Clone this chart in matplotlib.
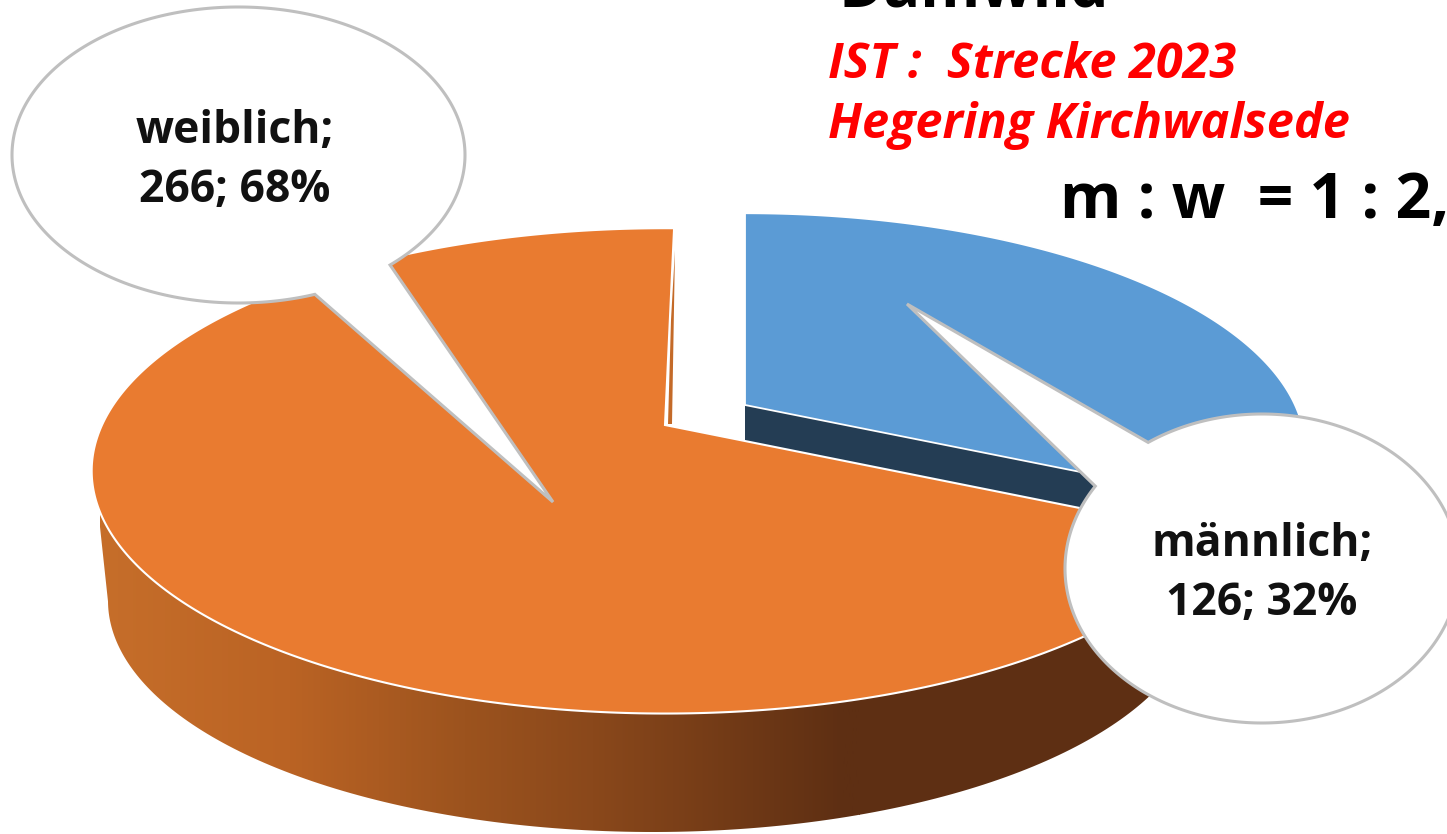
import numpy as np
import matplotlib
matplotlib.use("Agg")
import matplotlib.pyplot as plt
from matplotlib.colors import LinearSegmentedColormap
from matplotlib.patches import Polygon

# data
labels = ["männlich", "weiblich"]
counts = [126, 266]
shares = [32, 68]
title = "Damwild"
subtitle = ["IST :  Strecke 2023", "Hegering Kirchwalsede"]
ratio_text = "m : w  = 1 : 2,1"

plt.rcParams["font.family"] = ["Open Sans", "DejaVu Sans"]

blue = "#5B9BD5"
blue_dark = "#243D54"
orange = "#E97B30"
grey = "#BFBFBF"

fig = plt.figure(figsize=(14.47, 8.34), dpi=100)
ax = fig.add_axes([0, 0, 1, 1])
ax.set_xlim(0, 1447)
ax.set_ylim(834, 0)
ax.axis("off")

# slice angles, clockwise from 12 o'clock
sweep = 360 * counts[0] / sum(counts)


def project(theta, cx, cy, a=234, b=563, k=0.189):
    # unit circle -> screen, perspective seen from above
    t = np.radians(theta)
    u, v = np.sin(t), np.cos(t)
    w = 1 + k * v
    return np.column_stack([cx + b * u / w, cy - a * v / w])


# male slice, pulled out
blue_rim = project(np.linspace(0, sweep, 200), 745, 405, a=228, b=550)
blue_cut = np.vstack([[745, 405], blue_rim[-1], blue_rim[-1] + [0, 150], [745, 555]])
ax.add_patch(Polygon(blue_cut, fc=blue_dark, ec="none", zorder=1))
ax.add_patch(Polygon(np.vstack([[745, 405], blue_rim]), fc=blue, ec="white", lw=1.3, zorder=2))

# female slice: wall with gradient first
top_rim = project(np.linspace(sweep, 361.1, 400), 665, 425)
wall_top = project(np.linspace(sweep, 251, 200), 665, 425)
wall_bottom = project(np.linspace(233, 125, 200), 653, 462, a=148, b=436, k=0.6)
wall = Polygon(np.vstack([wall_top, wall_bottom]), fc="none", ec="none")
ax.add_patch(wall)

cmap = LinearSegmentedColormap.from_list(
    "wall",
    [(0.0, "#C66E2A"), (0.25, "#BA6324"), (0.48, "#9C531E"), (0.65, "#8A481B"), (0.98, "#5E2F13"), (1.0, "#5E2F13")],
)
grad = np.linspace(0, 1, 512).reshape(1, -1)
im = ax.imshow(grad, extent=(100, 860, 834, 0), cmap=cmap, aspect="auto", zorder=3)
im.set_clip_path(wall)
# dark part of the wall to the right of the gradient
dark = ax.imshow([[1.0]], extent=(859, 1200, 834, 0), cmap=cmap, vmin=0, vmax=1, aspect="auto", zorder=3)
dark.set_clip_path(wall)
ax.set_xlim(0, 1447)
ax.set_ylim(834, 0)

ax.add_patch(Polygon(np.vstack([[665, 425], top_rim]), fc=orange, ec="white", lw=1.5, zorder=4))

# thin inner face of the cut at the top
ax.add_patch(Polygon([[668, 424], [671, 320], [675, 250], [672, 424]], fc="#C46A28", ec="none", zorder=5))


def callout(cx, cy, rx, ry, t0, t1, tip, text, tx, ty):
    # ellipse with a tail, the tail sits between the angles t0 and t1
    t = np.radians(np.linspace(t1, t0 + 360, 300))
    pts = np.column_stack([cx + rx * np.cos(t), cy + ry * np.sin(t)])
    pts = np.vstack([pts, tip])
    ax.add_patch(Polygon(pts, fc="white", ec=grey, lw=2.2, joinstyle="miter", zorder=6))
    ax.text(tx, ty, text, ha="center", va="center", fontsize=32, fontweight="bold",
            color="#111111", linespacing=1.42, zorder=7)


callout(238.5, 155, 226.5, 148, 48, 70.3, (553, 502),
        f"{labels[1]};\n{counts[1]}; {shares[1]}%", 235, 161)
callout(1262, 568.5, 197, 154.5, -147.8, -125.3, (907, 304),
        f"{labels[0]};\n{counts[0]}; {shares[0]}%", 1262, 574)

ax.text(838, 6, title, fontsize=44, fontweight="bold", color="black", va="baseline", zorder=7)
ax.text(828, 78, subtitle[0], fontsize=35, fontweight="bold", style="italic", color="#FF0000", va="baseline", zorder=7)
ax.text(828, 138, subtitle[1], fontsize=35, fontweight="bold", style="italic", color="#FF0000", va="baseline", zorder=7)
ax.text(1060, 218, ratio_text, fontsize=45, fontweight="bold", color="black", va="baseline", zorder=7)

fig.savefig("out.png", dpi=100)
